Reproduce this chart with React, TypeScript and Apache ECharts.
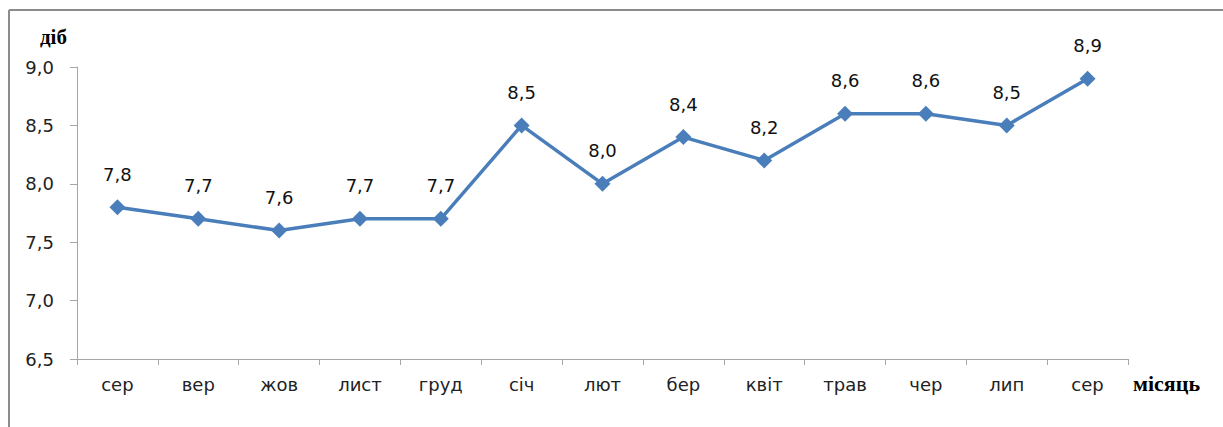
import React, { useEffect, useRef } from "react";
import * as echarts from "echarts";

const categories = ["сер", "вер", "жов", "лист", "груд", "січ", "лют", "бер", "квіт", "трав", "чер", "лип", "сер"];
const values = [7.8, 7.7, 7.6, 7.7, 7.7, 8.5, 8.0, 8.4, 8.2, 8.6, 8.6, 8.5, 8.9];
const yMin = 6.5;
const yMax = 9.0;
const yStep = 0.5;

const fmt = (v: number) => v.toFixed(1).replace(".", ",");

export default function App() {
  const ref = useRef<HTMLDivElement>(null);
  useEffect(() => {
    document.body.style.margin = "0";
    const chart = echarts.init(ref.current!, null, { renderer: "svg" });
    chart.setOption({
      animation: false,
      backgroundColor: "#ffffff",
      grid: { left: 77, right: 95, top: 67, bottom: 68 },
      graphic: [
        { type: "line", shape: { x1: 9, y1: 10, x2: 1223, y2: 10 }, style: { stroke: "#8c8c8c", lineWidth: 2 } },
        { type: "line", shape: { x1: 9, y1: 10, x2: 9, y2: 427 }, style: { stroke: "#8c8c8c", lineWidth: 2 } },
        { type: "text", left: 40, top: 26, style: { text: "діб", font: "bold 21px 'Liberation Serif'", fill: "#000" } },
        { type: "text", left: 1133, top: 372, style: { text: "місяць", font: "bold 22px 'Liberation Serif'", fill: "#000" } },
      ],
      xAxis: {
        type: "category",
        data: categories,
        boundaryGap: true,
        axisLine: { lineStyle: { color: "#a6a6a6", width: 1 } },
        axisTick: { show: true, alignWithLabel: false, length: 6, lineStyle: { color: "#a6a6a6" } },
        axisLabel: { color: "#222", fontFamily: "DejaVu Sans", fontSize: 18, margin: 16 },
      },
      yAxis: {
        type: "value",
        min: yMin,
        max: yMax,
        interval: yStep,
        splitLine: { show: false },
        axisLine: { show: true, lineStyle: { color: "#a6a6a6", width: 1 } },
        axisTick: { show: true, length: 7, lineStyle: { color: "#a6a6a6" } },
        axisLabel: { color: "#222", fontFamily: "DejaVu Sans", fontSize: 18, margin: 23, formatter: (v: number) => fmt(v) },
      },
      series: [
        {
          type: "line",
          data: values,
          symbol: "diamond",
          symbolSize: 16,
          lineStyle: { color: "#4a7ebb", width: 3.5 },
          itemStyle: { color: "#4a7ebb" },
          label: {
            show: true,
            position: "top",
            distance: 16,
            color: "#111",
            fontFamily: "DejaVu Sans",
            fontSize: 18,
            formatter: (p: any) => fmt(p.value),
          },
        },
      ],
    });
    return () => chart.dispose();
  }, []);
  return <div ref={ref} style={{ width: 1223, height: 427 }} />;
}
